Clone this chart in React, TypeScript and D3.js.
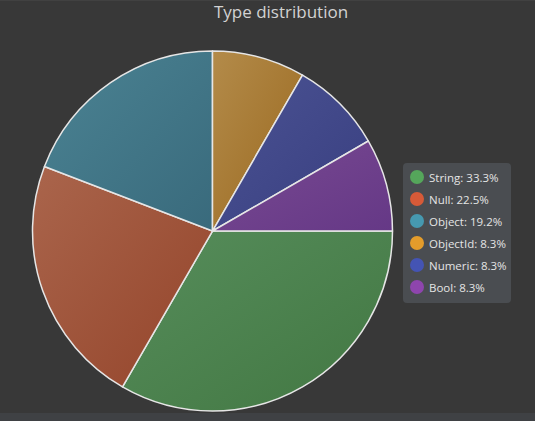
import React from "react";
import * as d3 from "d3";

const categories = ["String", "Null", "Object", "ObjectId", "Numeric", "Bool"];
const counts = [40, 27, 23, 10, 10, 10];
const legendColors = ["#55a65b", "#d65a38", "#4699b0", "#e39c2b", "#4454b4", "#8e45ad"];
const sliceLight = ["#568d5b", "#aa654c", "#4b8393", "#b38b4a", "#4b5393", "#794a92"];
const sliceDark = ["#427742", "#94442a", "#396a7c", "#9a681e", "#383e80", "#653886"];

const W = 535;
const H = 421;
const cx = 212.5;
const cy = 231;
const R = 180;

export default function App() {
  const total = d3.sum(counts);
  const pie = d3
    .pie<number>()
    .sort(null)
    .startAngle(Math.PI / 2)
    .endAngle(Math.PI / 2 + 2 * Math.PI)(counts);
  const arc = d3.arc<d3.PieArcDatum<number>>().innerRadius(0).outerRadius(R);
  const legendY = d3.scalePoint<string>().domain(categories).range([177, 287]);

  return (
    <div style={{ position: "fixed", left: 0, top: 0, width: W, height: H }}>
      <svg width={W} height={H} style={{ display: "block" }}>
        <defs>
          {categories.map((c, i) => (
            <linearGradient key={c} id={`g${i}`} x1="0" y1="0" x2="1" y2="1">
              <stop offset="0%" stopColor={sliceLight[i]} />
              <stop offset="100%" stopColor={sliceDark[i]} />
            </linearGradient>
          ))}
        </defs>
        <rect x={0} y={0} width={W} height={H} fill="#383838" />
        <rect x={0} y={0} width={W} height={1} fill="#414141" />
        <rect x={0} y={413} width={W} height={8} fill="#3f4144" />
        <text
          x={281}
          y={18}
          textAnchor="middle"
          fill="#d2d2d2"
          fontFamily="'Open Sans', 'Noto Sans', sans-serif"
          fontSize={17}
        >
          Type distribution
        </text>
        <g transform={`translate(${cx},${cy})`}>
          {pie.map((d, i) => (
            <path
              key={categories[i]}
              d={arc(d) ?? ""}
              fill={`url(#g${i})`}
              stroke="#e6e6e6"
              strokeWidth={1.5}
              strokeLinejoin="round"
            />
          ))}
        </g>
        <rect x={403} y={163} width={108} height={140} rx={4} fill="#4a4d51" />
        {categories.map((c, i) => (
          <g key={c}>
            <circle cx={417} cy={legendY(c)} r={7} fill={legendColors[i]} />
            <text
              x={429}
              y={(legendY(c) ?? 0) + 4.5}
              fill="#e4e4e4"
              fontFamily="'Open Sans', 'Noto Sans', sans-serif"
              fontSize={11.5}
            >
              {`${c}: ${((counts[i] / total) * 100).toFixed(1)}%`}
            </text>
          </g>
        ))}
      </svg>
    </div>
  );
}
